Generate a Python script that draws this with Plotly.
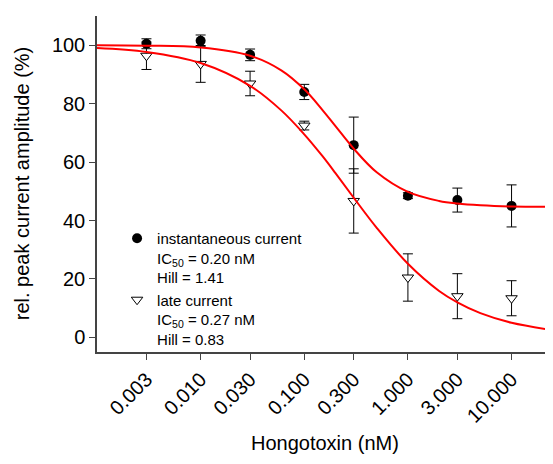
import plotly.graph_objects as go

# concentrations (nM)
conc = [0.003, 0.01, 0.03, 0.1, 0.3, 1, 3, 10]

# instantaneous current, mean and error
inst_mean = [100.5, 101.5, 96.7, 84.0, 65.8, 48.5, 47.0, 45.0]
inst_err = [1.7, 2.0, 2.0, 2.6, 9.6, 1.0, 4.1, 7.2]

# late current, mean and error
late_mean = [96.4, 93.6, 86.9, 72.5, 46.7, 20.5, 14.1, 13.4]
late_err = [4.7, 6.3, 4.2, 1.5, 11.0, 8.1, 7.7, 6.0]

# fitted curves
fit_x = [0.001, 0.003, 0.01, 0.03, 0.06, 0.1, 0.15, 0.2, 0.3, 0.5, 1, 2, 3, 5, 10, 25]
inst_fit = [100.0, 99.85, 99.2, 96.4, 91.4, 84.9, 77.8, 72.3, 64.6, 56.5, 49.8, 46.7, 45.8, 45.2, 44.8, 44.7]
late_fit = [99.05, 97.7, 93.9, 86.1, 77.7, 69.5, 62.0, 56.2, 47.8, 37.5, 25.2, 15.9, 12.0, 8.3, 5.0, 2.5]

tick_vals = [0.003, 0.01, 0.03, 0.1, 0.3, 1, 3, 10]
tick_text = ["0.003", "0.010", "0.030", "0.100", "0.300", "1.000", "3.000", "10.000"]

font = "Liberation Sans, Arial, sans-serif"

fig = go.Figure()

fig.add_trace(go.Scatter(
    x=conc, y=inst_mean, mode="markers",
    name="instantaneous current<br>IC<sub>50</sub> = 0.20 nM<br>Hill = 1.41",
    marker=dict(symbol="circle", size=10, color="black"),
    error_y=dict(type="data", array=inst_err, color="black", thickness=1, width=5),
))
fig.add_trace(go.Scatter(
    x=conc, y=late_mean, mode="markers",
    name="late current<br>IC<sub>50</sub> = 0.27 nM<br>Hill = 0.83",
    marker=dict(symbol="triangle-down", size=10, color="white", line=dict(color="black", width=1)),
    error_y=dict(type="data", array=late_err, color="black", thickness=1, width=5),
))
fig.add_trace(go.Scatter(x=fit_x, y=inst_fit, mode="lines", line=dict(color="red", width=2, shape="spline"),
                         showlegend=False, hoverinfo="skip"))
fig.add_trace(go.Scatter(x=fit_x, y=late_fit, mode="lines", line=dict(color="red", width=2, shape="spline"),
                         showlegend=False, hoverinfo="skip"))

# page body adds an 8px offset, so the figure is 8px smaller each way
fig.update_layout(
    width=545, height=456,
    margin=dict(l=89, r=0, t=8, b=112),
    plot_bgcolor="white", paper_bgcolor="white",
    font=dict(family=font, color="black"),
    legend=dict(x=0.044, y=0.387, xanchor="left", yanchor="top", valign="top",
                font=dict(size=15), bgcolor="rgba(0,0,0,0)", tracegroupgap=0),
    annotations=[
        dict(text="Hongotoxin (nM)", xref="paper", yref="paper", x=0.5, y=-0.272,
             xanchor="center", yanchor="middle", showarrow=False, font=dict(size=20)),
        dict(text="rel. peak current amplitude (%)", xref="paper", yref="paper", x=-0.164, y=0.5,
             xanchor="center", yanchor="middle", textangle=-90, showarrow=False, font=dict(size=20)),
    ],
)
fig.update_xaxes(
    type="log", range=[-3, 1.4], automargin=False,
    tickvals=tick_vals, ticktext=tick_text, tickangle=-45,
    tickfont=dict(size=20), ticks="outside", ticklen=6, tickcolor="#444",
    showline=True, linecolor="#444", linewidth=1.5, showgrid=False, zeroline=False,
)
fig.update_yaxes(
    range=[-5, 110], tickvals=[0, 20, 40, 60, 80, 100], automargin=False,
    tickfont=dict(size=20), ticks="outside", ticklen=6, tickcolor="#444",
    showline=True, linecolor="#444", linewidth=1.5, showgrid=False, zeroline=False,
)

fig.write_html("out.html")
